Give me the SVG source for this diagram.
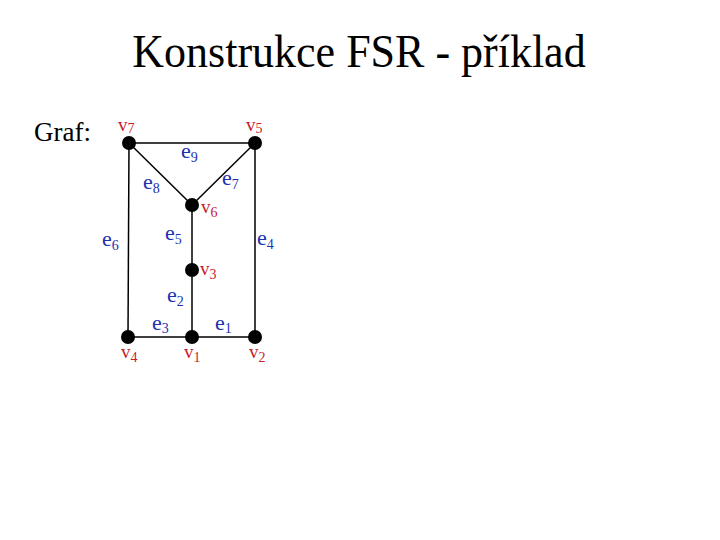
<svg xmlns="http://www.w3.org/2000/svg" width="720" height="540" viewBox="0 0 720 540">
<style>
.t{font-family:"Liberation Serif","Times New Roman",serif;fill:#000}
.v{font-family:"Liberation Serif","Times New Roman",serif;font-size:19px;fill:#c8202a}
.e{font-family:"Liberation Serif","Times New Roman",serif;font-size:22px;fill:#2030b0}
.se{font-size:14px}
.sv{font-size:14px}
.edge{stroke:#000;stroke-width:1.5;fill:none}
.node{fill:#000}
</style>
<rect width="720" height="540" fill="#fff"/>
<text class="t" x="359" y="67" font-size="44" text-anchor="middle" transform="translate(0,67) scale(1,1.06) translate(0,-67)">Konstrukce FSR - příklad</text>
<text class="t" x="34" y="141" font-size="27">Graf:</text>
<g id="connectors">
<line class="edge" x1="129" y1="143" x2="255" y2="143"/>
<line class="edge" x1="129" y1="143" x2="192" y2="205"/>
<line class="edge" x1="255" y1="143" x2="192" y2="205"/>
<line class="edge" x1="129" y1="143" x2="128" y2="337"/>
<line class="edge" x1="255" y1="143" x2="255" y2="337"/>
<line class="edge" x1="192" y1="205" x2="192" y2="337"/>
<line class="edge" x1="128" y1="337" x2="255" y2="337"/>
</g>
<g id="edge-labels">
<text class="e" x="181" y="158">e<tspan class="se" dy="4">9</tspan></text>
<text class="e" x="143" y="189">e<tspan class="se" dy="4">8</tspan></text>
<text class="e" x="222" y="185">e<tspan class="se" dy="4">7</tspan></text>
<text class="e" x="165" y="240">e<tspan class="se" dy="4">5</tspan></text>
<text class="e" x="102" y="246">e<tspan class="se" dy="4">6</tspan></text>
<text class="e" x="257" y="245">e<tspan class="se" dy="4">4</tspan></text>
<text class="e" x="167" y="302">e<tspan class="se" dy="4">2</tspan></text>
<text class="e" x="152" y="330">e<tspan class="se" dy="3">3</tspan></text>
<text class="e" x="215" y="330">e<tspan class="se" dy="3">1</tspan></text>
</g>
<g id="v7"><circle class="node" cx="129" cy="143" r="7"/><text class="v" x="118" y="131">v<tspan class="sv" dy="2">7</tspan></text></g>
<g id="v5"><circle class="node" cx="255" cy="143" r="7"/><text class="v" x="246" y="131">v<tspan class="sv" dy="2">5</tspan></text></g>
<g id="v6"><circle class="node" cx="192" cy="205" r="7"/><text class="v" x="201" y="213">v<tspan class="sv" dy="4">6</tspan></text></g>
<g id="v3"><circle class="node" cx="192" cy="270" r="7"/><text class="v" x="200" y="275">v<tspan class="sv" dy="4">3</tspan></text></g>
<g id="v4"><circle class="node" cx="128" cy="337" r="7"/><text class="v" x="121" y="358">v<tspan class="sv" dy="4">4</tspan></text></g>
<g id="v1"><circle class="node" cx="192" cy="337" r="7"/><text class="v" x="184" y="358">v<tspan class="sv" dy="4">1</tspan></text></g>
<g id="v2"><circle class="node" cx="255" cy="337" r="7"/><text class="v" x="249" y="358">v<tspan class="sv" dy="4">2</tspan></text></g>
</svg>
